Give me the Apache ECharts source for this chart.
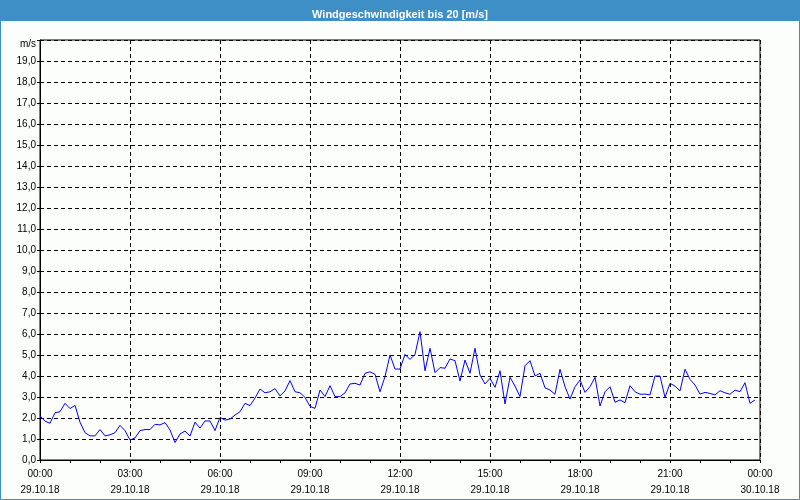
<!DOCTYPE html>
<html>
<head>
<meta charset="utf-8">
<script src="https://cdn.jsdelivr.net/npm/echarts@6/dist/echarts.min.js"></script>
<style>html,body{margin:0;padding:0;background:#fcfefc;}#c{width:800px;height:500px;}</style>
</head>
<body>
<div id="c"></div>
<script>
var chartTitle = 'Windgeschwindigkeit bis 20 [m/s]';
var unitLabel = 'm/s';
var stepMinutes = 10;
var timeLabels = ['00:00','03:00','06:00','09:00','12:00','15:00','18:00','21:00','00:00'];
var dateLabels = ['29.10.18','29.10.18','29.10.18','29.10.18','29.10.18','29.10.18','29.10.18','29.10.18','30.10.18'];
var windSpeed = [
 2.1,1.85,1.75,2.25,2.3,2.7,2.45,2.6,1.8,1.3,
 1.15,1.15,1.45,1.15,1.2,1.3,1.65,1.4,0.95,1.05,
 1.4,1.45,1.45,1.7,1.67,1.78,1.43,0.83,1.24,1.38,
 1.14,1.8,1.52,1.86,1.86,1.4,2.03,1.9,1.95,2.14,
 2.3,2.7,2.59,2.95,3.38,3.2,3.25,3.4,3.05,3.29,
 3.78,3.25,3.2,2.98,2.55,2.46,3.33,3.02,3.54,3.02,
 3.02,3.2,3.62,3.65,3.57,4.13,4.2,4.08,3.25,3.97,
 5.0,4.33,4.33,5.03,4.79,5.03,6.11,4.25,5.32,4.16,
 4.4,4.37,4.81,4.73,3.76,4.76,4.13,5.32,4.05,3.62,
 3.89,3.46,4.25,2.67,3.94,3.52,3.02,4.49,4.73,4.0,
 4.13,3.44,3.33,3.13,4.32,3.49,2.9,3.49,3.81,3.22,
 3.49,3.94,2.57,3.25,3.49,2.75,2.86,2.73,3.54,3.25,
 3.13,3.14,3.1,4.0,4.0,2.98,3.65,3.52,3.29,4.32,
 3.84,3.57,3.14,3.22,3.17,3.1,3.3,3.2,3.13,3.33,
 3.25,3.68,2.7,2.86
];

var seriesData = windSpeed.map(function (v, i) { return [i * stepMinutes, v]; });
var FONT = 'Liberation Sans';

var chart = echarts.init(document.getElementById('c'), null, {renderer: 'canvas'});
chart.setOption({
  backgroundColor: '#fcfefc',
  animation: false,
  title: {
    text: chartTitle,
    left: 'center',
    top: 4,
    textStyle: {color: '#ffffff', fontFamily: FONT, fontSize: 11, fontWeight: 'bold'}
  },
  graphic: [
    {type: 'rect', z: -1, shape: {x: 0, y: 0, width: 800, height: 21}, style: {fill: '#3d8fc6'}},
    {type: 'rect', z: 100, shape: {x: 0.5, y: 0.5, width: 799, height: 499}, style: {fill: 'none', stroke: '#3d8fc6', lineWidth: 1}}
  ],
  grid: {left: 40, right: 40, top: 40, bottom: 40, show: true, borderColor: '#000', borderWidth: 1, backgroundColor: 'transparent'},
  xAxis: {
    type: 'value', min: 0, max: 1440, interval: 180,
    axisLine: {show: true, lineStyle: {color: '#000', width: 1}},
    axisTick: {show: true, length: 3, lineStyle: {color: '#000'}},
    minorTick: {show: true, splitNumber: 3, length: 3, lineStyle: {color: '#000'}},
    splitLine: {show: true, lineStyle: {color: '#000', type: [4, 3], width: 1}},
    axisLabel: {
      margin: 6, color: '#000', fontFamily: FONT, fontSize: 10, lineHeight: 16,
      formatter: function (v) { var k = Math.round(v / 180); return timeLabels[k] + '\n' + dateLabels[k]; }
    }
  },
  yAxis: {
    type: 'value', min: 0, max: 20, interval: 1,
    axisLine: {show: true, lineStyle: {color: '#000', width: 1}},
    axisTick: {show: true, length: 3, lineStyle: {color: '#000'}},
    splitLine: {show: true, lineStyle: {color: '#000', type: [4, 3], width: 1}},
    axisLabel: {
      margin: 4, color: '#000', fontFamily: FONT, fontSize: 10,
      formatter: function (v) { return v === 20 ? '{u|' + unitLabel + '}' : v.toFixed(1).replace('.', ','); },
      rich: {u: {fontFamily: FONT, fontSize: 10, color: '#000', padding: [9, 0, 0, 0]}}
    }
  },
  series: [{
    type: 'line', data: seriesData, showSymbol: false, symbol: 'none',
    lineStyle: {color: '#0000ff', width: 1}, itemStyle: {color: '#0000ff'}
  }]
});
</script>
</body>
</html>
